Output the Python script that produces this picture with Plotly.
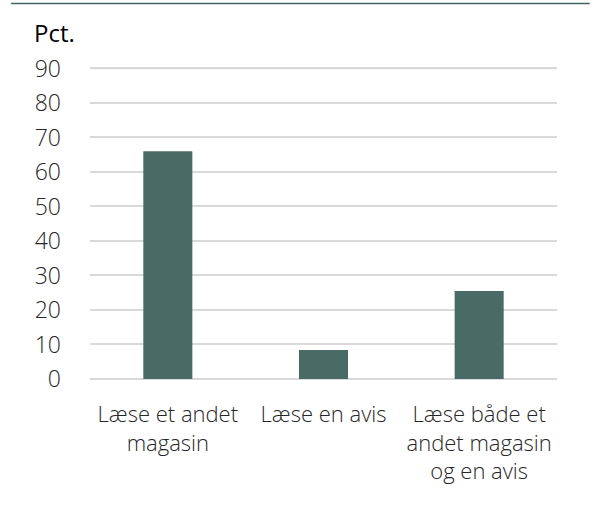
import plotly.graph_objects as go

categories = ["Læse et andet<br>magasin", "Læse en avis", "Læse både et<br>andet magasin<br>og en avis"]
values = [66, 8.4, 25.5]
y_ticks = [0, 10, 20, 30, 40, 50, 60, 70, 80, 90]

bar_color = "#496a65"
grid_color = "#d9d9d9"
font_fam = "Open Sans, Noto Sans, sans-serif"

fig = go.Figure()
fig.add_trace(go.Bar(x=categories, y=values, marker=dict(color=bar_color, line=dict(width=0)), width=0.315))

fig.update_layout(
    width=595, height=528,
    margin=dict(l=90, r=38, t=65, b=149),
    plot_bgcolor="white", paper_bgcolor="white",
    font=dict(family=font_fam, size=22, color="#262626", weight=300),
    showlegend=False,
    xaxis=dict(showgrid=False, showline=False, ticks="", tickfont=dict(size=22, weight=300), ticklabelstandoff=20),
    yaxis=dict(range=[0, 91], tickvals=y_ticks, showgrid=True, gridcolor=grid_color, gridwidth=1.5,
               zeroline=True, zerolinecolor=grid_color, zerolinewidth=1.5, showline=False, ticks="",
               tickfont=dict(size=23, weight=300), ticklabelstandoff=28),
    annotations=[dict(text="Pct.", xref="paper", yref="paper", x=-0.124, y=1.1045, xanchor="left", yanchor="middle",
                      showarrow=False, font=dict(family="Open Sans, sans-serif", size=24, color="#000000", weight=400))],
    shapes=[
        dict(type="line", xref="paper", yref="paper", x0=-0.169, x1=1.07, y0=1.196, y1=1.196,
             line=dict(color="#3f635d", width=1.5)),
        dict(type="line", xref="paper", yref="y", x0=0, x1=1, y0=y_ticks[-1], y1=y_ticks[-1],
             line=dict(color=grid_color, width=1.5), layer="below"),
    ],
)

fig.write_html("out.html", post_script="document.body.style.margin='0';",
               config={"displayModeBar": False})
